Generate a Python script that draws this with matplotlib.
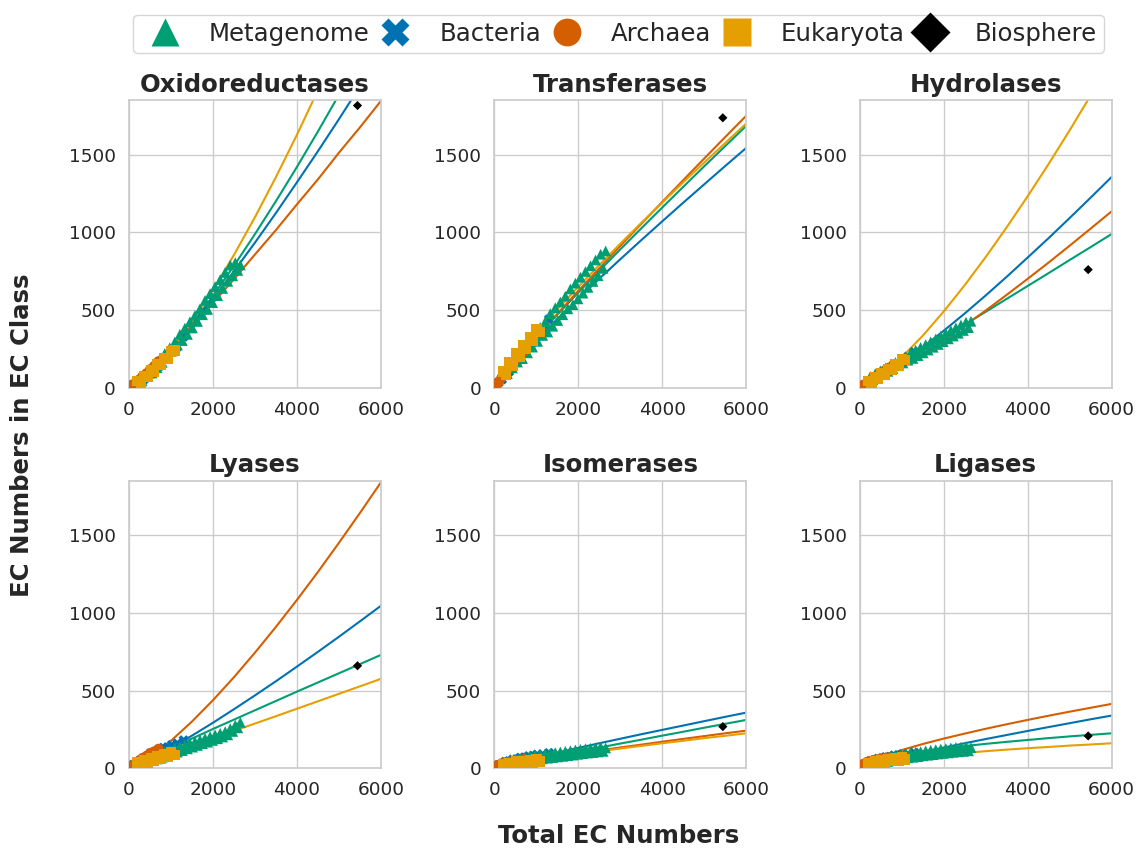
import matplotlib
matplotlib.use("Agg")
import seaborn as sns
from matplotlib import pyplot as plt
from matplotlib.lines import Line2D

sns.set_theme(style="whitegrid")
plt.rcParams['font.family'] = ['DejaVu Sans']

ec_classes = ["Oxidoreductases", "Transferases", "Hydrolases",
              "Lyases", "Isomerases", "Ligases"]
domains = ["Metagenome", "Bacteria", "Archaea", "Eukaryota"]
colors = {"Metagenome": "#009E73", "Bacteria": "#0072B2",
          "Archaea": "#D55E00", "Eukaryota": "#E69F00", "Biosphere": "black"}
markers = {"Metagenome": "^", "Bacteria": "X", "Archaea": "o",
           "Eukaryota": "s", "Biosphere": "D"}
sizes = {"Metagenome": 60, "Bacteria": 55, "Archaea": 55, "Eukaryota": 55}

# total EC numbers per sample, per domain
meta_total = [250, 310, 370, 430, 490, 550, 610, 670, 730, 790,
              850, 910, 970, 1030, 1090, 1150, 1210, 1270, 1330, 1390,
              1450, 1510, 1570, 1630, 1690, 1750, 1810, 1870, 1930, 1990,
              2050, 2110, 2170, 2230, 2290, 2350, 2410, 2470, 2530, 2590, 2650]
bact_total = [30, 100, 180, 260, 350, 440, 530, 620, 720, 820, 920, 1020, 1150, 1300]
arch_total = [20, 60, 110, 170, 240, 320, 410, 500, 600, 700]
euk_total = [200, 280, 360, 440, 520, 600, 680, 760, 840, 920, 1000, 1080]

# EC numbers in each class (same order as ec_classes)
meta_class = [
    [55, 45, 83, 73, 121, 96, 153, 129, 186, 164, 221, 200, 258, 237, 295, 275,
     344, 304, 384, 344, 425, 385, 466, 427, 509, 470, 562, 504, 606, 548,
     651, 593, 696, 639, 742, 685, 789, 720, 805, 755, 790],
    [112, 91, 150, 128, 187, 166, 239, 188, 276, 225, 314, 262, 351, 299, 388, 337,
     425, 359, 477, 396, 515, 433, 552, 470, 589, 508, 636, 535, 673, 572,
     711, 609, 748, 646, 785, 684, 822, 721, 859, 768, 880],
    [73, 52, 91, 70, 109, 88, 127, 106, 145, 124, 163, 142, 181, 160, 199, 178,
     224, 189, 242, 207, 260, 225, 278, 243, 296, 261, 314, 279, 332, 297,
     350, 315, 368, 333, 386, 351, 404, 369, 422, 387, 428],
    [52, 28, 63, 39, 74, 50, 85, 60, 96, 71, 107, 82, 117, 93, 128, 104,
     139, 114, 150, 125, 161, 136, 171, 147, 182, 158, 193, 168, 204, 179,
     215, 190, 225, 201, 236, 215, 255, 237, 277, 260, 295],
    [40, 14, 48, 22, 56, 30, 64, 38, 72, 45, 78, 51, 84, 56, 89, 61,
     93, 65, 97, 69, 101, 73, 105, 77, 109, 81, 113, 85, 118, 90,
     122, 94, 126, 98, 129, 101, 133, 105, 137, 109, 131],
    [45, 20, 55, 29, 64, 38, 71, 44, 78, 51, 84, 56, 89, 62, 95, 67,
     99, 71, 103, 75, 107, 80, 112, 84, 116, 88, 120, 92, 124, 96,
     127, 99, 131, 103, 134, 106, 137, 109, 140, 112, 133],
]
bact_class = [
    [8, 20, 30, 48, 55, 85, 92, 128, 140, 185, 190, 240, 265, 330],
    [10, 35, 55, 90, 105, 150, 165, 215, 230, 285, 295, 350, 375, 440],
    [6, 18, 28, 45, 52, 75, 82, 108, 118, 148, 155, 185, 200, 230],
    [8, 22, 32, 50, 58, 78, 85, 105, 112, 132, 135, 150, 160, 180],
    [8, 22, 30, 42, 46, 56, 58, 68, 70, 78, 80, 88, 90, 98],
    [10, 26, 36, 48, 52, 62, 64, 72, 74, 82, 83, 90, 92, 100],
]
arch_class = [
    [4, 14, 22, 40, 52, 75, 92, 118, 140, 170],
    [6, 25, 38, 65, 82, 120, 140, 180, 215, 235],
    [4, 14, 20, 34, 42, 60, 72, 95, 112, 130],
    [4, 15, 22, 38, 48, 66, 78, 98, 108, 125],
    [6, 16, 22, 30, 34, 40, 44, 50, 52, 58],
    [8, 22, 30, 40, 45, 52, 56, 62, 64, 70],
]
euk_class = [
    [42, 33, 74, 68, 112, 106, 150, 146, 192, 188, 234, 240],
    [105, 85, 165, 143, 221, 199, 277, 253, 329, 305, 380, 360],
    [42, 30, 67, 56, 94, 84, 122, 113, 152, 144, 184, 178],
    [37, 20, 52, 35, 66, 49, 80, 62, 92, 74, 104, 86],
    [28, 12, 36, 20, 43, 26, 49, 32, 55, 38, 61, 44],
    [35, 20, 45, 29, 53, 37, 61, 45, 68, 51, 74, 57],
]

# fitted scaling curves, evaluated at fit_total
fit_total = [0, 500, 1000, 1500, 2000, 2500, 3000, 3500, 4000, 4500, 5000, 5500, 6000]
meta_fit = [
    [0, 103, 247, 411, 592, 785, 989, 1201, 1421, 1649, 1885, 2126, 2373],
    [0, 171, 324, 471, 613, 753, 891, 1026, 1160, 1293, 1425, 1555, 1685],
    [0, 79, 160, 242, 324, 406, 489, 572, 655, 738, 822, 905, 989],
    [0, 66, 129, 191, 253, 313, 373, 433, 493, 552, 611, 670, 729],
    [0, 28, 55, 81, 107, 133, 159, 184, 210, 235, 261, 286, 311],
    [0, 62, 89, 109, 127, 143, 157, 170, 182, 194, 205, 215, 225],
]
bact_fit = [
    [0, 108, 248, 405, 573, 750, 934, 1125, 1322, 1522, 1728, 1939, 2153],
    [0, 165, 308, 443, 574, 702, 827, 950, 1071, 1191, 1309, 1427, 1543],
    [0, 71, 161, 260, 367, 478, 594, 714, 838, 963, 1092, 1223, 1356],
    [0, 59, 132, 210, 293, 380, 469, 560, 654, 749, 846, 945, 1045],
    [0, 37, 69, 101, 131, 161, 190, 219, 247, 275, 303, 331, 358],
    [0, 41, 74, 104, 133, 161, 188, 214, 240, 265, 290, 315, 339],
]
arch_fit = [
    [0, 118, 254, 397, 547, 699, 858, 1015, 1180, 1341, 1512, 1675, 1845],
    [0, 170, 325, 476, 624, 769, 913, 1055, 1196, 1336, 1475, 1613, 1750],
    [0, 59, 135, 218, 307, 401, 497, 598, 701, 806, 914, 1024, 1135],
    [0, 72, 177, 301, 438, 586, 744, 910, 1083, 1263, 1450, 1642, 1839],
    [0, 29, 52, 74, 94, 114, 134, 152, 171, 189, 207, 225, 242],
    [0, 72, 117, 156, 191, 223, 254, 283, 311, 338, 364, 389, 414],
]
euk_fit = [
    [0, 94, 244, 425, 630, 855, 1098, 1356, 1628, 1914, 2211, 2519, 2838],
    [0, 194, 355, 505, 650, 790, 927, 1061, 1191, 1322, 1449, 1575, 1700],
    [0, 78, 196, 335, 491, 660, 841, 1032, 1232, 1440, 1656, 1880, 2110],
    [0, 48, 96, 144, 192, 240, 288, 335, 383, 431, 479, 527, 575],
    [0, 29, 51, 72, 91, 109, 127, 144, 161, 177, 194, 209, 225],
    [0, 41, 60, 75, 88, 99, 110, 120, 129, 137, 146, 153, 161],
]

biosphere_total = 5440
biosphere_class = [1815, 1736, 760, 659, 268, 208]

totals = {"Metagenome": meta_total, "Bacteria": bact_total,
          "Archaea": arch_total, "Eukaryota": euk_total}
class_counts = {"Metagenome": meta_class, "Bacteria": bact_class,
                "Archaea": arch_class, "Eukaryota": euk_class}
fits = {"Metagenome": meta_fit, "Bacteria": bact_fit,
        "Archaea": arch_fit, "Eukaryota": euk_fit}

# bacteria sit underneath the metagenome cloud
draw_order = ["Bacteria", "Metagenome", "Archaea", "Eukaryota"]

fig, axes = plt.subplots(2, 3, figsize=(11.36, 8.48), dpi=100)
fig.subplots_adjust(left=0.1136, right=0.9786, top=0.882, bottom=0.094,
                    wspace=0.45, hspace=0.322)

for i, (ax, name) in enumerate(zip(axes.flat, ec_classes)):
    for d in domains:
        ax.plot(fit_total, fits[d][i], color=colors[d], lw=1.5, zorder=2)
    for d in draw_order:
        ax.scatter(totals[d], class_counts[d][i], s=sizes[d], marker=markers[d],
                   color=colors[d], edgecolor="none", zorder=3)
    ax.scatter([biosphere_total], [biosphere_class[i]], s=22, marker="D",
               color="black", edgecolor="none", zorder=4)
    ax.set_xlim(0, 6000)
    ax.set_ylim(0, 1850)
    ax.set_xticks([0, 2000, 4000, 6000])
    ax.set_yticks([0, 500, 1000, 1500])
    ax.tick_params(labelsize=13.3, colors="#262626")
    ax.set_title(name, fontsize=17.6, fontweight="bold", color="#262626")

handles = [Line2D([], [], ls="none", marker=markers[d], color=colors[d],
                  markeredgecolor="none", markersize=20)
           for d in domains + ["Biosphere"]]
fig.legend(handles, domains + ["Biosphere"], loc="center", ncol=5,
           bbox_to_anchor=(0.5445, 0.96), fontsize=17.6, frameon=True,
           handletextpad=0.8, columnspacing=0.05, borderpad=0.3)

fig.text(0.5442, 0.014, "Total EC Numbers", ha="center", va="center",
         fontsize=17.6, fontweight="bold", color="#262626")
fig.text(0.019, 0.487, "EC Numbers in EC Class", ha="center", va="center",
         rotation=90, fontsize=17.6, fontweight="bold", color="#262626")

fig.savefig("out.png", dpi=100)
